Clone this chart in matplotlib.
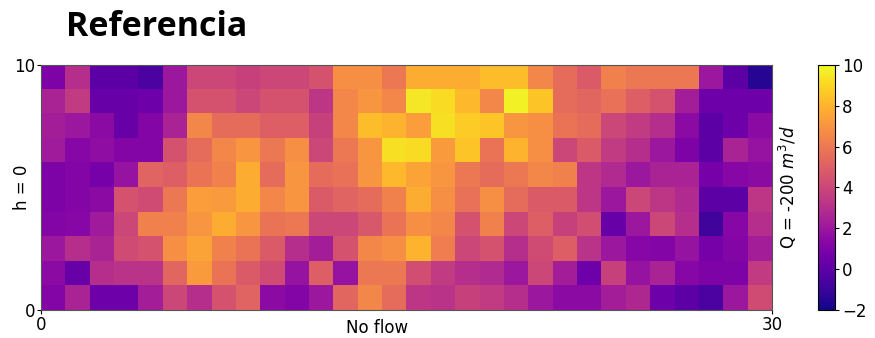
# Heatmap de referencia (campo 30 x 10) con barra de color

import matplotlib.pyplot as plt
import numpy as np


title = "Referencia"
xlabel = "No flow"
ylabel = "h = 0"
rlabel = "Q = -200 $m^3/d$"
cbar_ticks = [-2, 0, 2, 4, 6, 8, 10]

# filas de arriba (y=10) hacia abajo (y=0), 30 columnas cada una
row9 = [1.0, 3.0, 0.0, 0.0, -0.5, 2.0, 4.0, 4.0, 3.8, 4.0,
        4.0, 4.5, 6.8, 6.8, 6.0, 7.8, 7.8, 7.8, 8.3, 8.3,
        6.5, 5.5, 4.8, 6.3, 6.0, 6.0, 6.0, 2.0, 0.0, -1.5]
row8 = [2.5, 3.5, 0.3, 0.3, 0.5, 2.0, 4.5, 4.5, 4.0, 4.5,
        4.5, 3.3, 6.5, 7.0, 6.5, 9.5, 9.2, 8.2, 6.5, 9.8,
        8.5, 5.5, 5.3, 5.7, 5.0, 4.5, 2.3, 0.5, 0.5, 0.5]
row7 = [2.3, 2.0, 1.5, 0.3, 1.2, 2.5, 6.5, 5.5, 5.5, 5.0,
        5.0, 3.8, 6.5, 8.3, 8.0, 7.3, 9.3, 8.7, 8.5, 7.0,
        6.8, 5.8, 5.5, 4.0, 3.5, 3.0, 1.5, 0.0, 0.5, 1.5]
row6 = [2.2, 1.3, 1.6, 1.2, 1.2, 4.5, 5.5, 6.5, 7.0, 6.0,
        6.8, 4.0, 6.0, 7.0, 9.3, 9.2, 7.2, 8.5, 5.8, 8.0,
        6.8, 4.0, 4.8, 3.5, 3.0, 2.0, 1.0, 0.0, 2.5, 1.8]
row5 = [1.0, 1.2, 0.8, 1.8, 5.2, 5.0, 5.8, 6.3, 7.8, 5.5,
        7.0, 5.5, 5.7, 7.0, 8.2, 7.5, 7.0, 6.0, 5.5, 6.0,
        6.5, 6.3, 3.3, 2.8, 2.0, 2.5, 2.5, 0.8, 1.3, 1.5]
row4 = [1.0, 1.2, 1.5, 4.5, 4.2, 6.0, 7.3, 7.2, 7.8, 6.5,
        7.0, 4.8, 5.2, 5.5, 6.3, 7.8, 6.8, 5.7, 6.8, 5.5,
        4.8, 4.8, 3.3, 2.0, 4.0, 3.3, 2.8, 0.0, 0.0, 3.3]
row3 = [1.2, 1.3, 2.2, 4.0, 6.3, 6.3, 7.0, 7.8, 7.0, 5.8,
        6.0, 4.0, 4.0, 4.7, 5.8, 6.8, 6.5, 4.5, 6.3, 4.0,
        5.0, 3.8, 4.3, 0.3, 2.0, 4.0, 3.0, -0.8, 1.3, 3.0]
row2 = [2.0, 3.0, 2.5, 4.2, 4.5, 6.8, 7.5, 6.3, 5.8, 4.8,
        3.0, 2.3, 4.5, 6.5, 6.8, 8.0, 6.2, 4.0, 4.5, 3.0,
        4.2, 5.0, 3.2, 2.0, 1.3, 1.2, 1.8, 0.8, 1.2, 2.3]
row1 = [1.5, 0.3, 3.0, 3.2, 3.2, 5.3, 7.2, 5.8, 4.8, 4.2,
        1.8, 5.0, 1.8, 6.0, 6.0, 4.3, 3.5, 3.0, 2.8, 2.0,
        4.0, 2.3, 0.5, 3.8, 1.8, 2.5, 1.3, 1.0, 1.0, 3.5]
row0 = [1.2, 2.5, 0.5, 0.5, 2.3, 4.0, 3.0, 4.5, 5.2, 1.5,
        1.2, 2.0, 5.3, 6.5, 5.5, 3.3, 3.2, 3.8, 3.5, 3.0,
        2.0, 1.5, 1.5, 2.3, 2.7, 0.5, 0.0, -0.5, 2.0, 4.2]


def makeFig():
    plt.rcParams['font.family'] = 'DejaVu Sans'
    field = np.array([row9, row8, row7, row6, row5, row4, row3, row2, row1, row0])
    ny, nx = field.shape

    fig = plt.figure(figsize=(8.75, 3.38), dpi=100)
    fig.text(0.075, 0.92, title, fontsize=24.5, fontweight='bold',
             family=['Open Sans', 'DejaVu Sans'], va='center')

    ax = fig.add_axes([0.0469, 0.0828, 0.8354, 0.725])
    im = ax.imshow(field, cmap='plasma', vmin=-2, vmax=10, origin='upper',
                   extent=[0, nx, 0, ny], aspect='auto', interpolation='nearest')
    ax.set_xticks([0, nx])
    ax.set_yticks([0, ny])
    ax.tick_params(labelsize=12, length=3, pad=1)
    # etiquetas pegadas al eje (a la altura de los numeros)
    ax.text(13.8, -0.72, xlabel, fontsize=12, ha='center', va='center')
    ax.text(-0.78, 5, ylabel, fontsize=12, rotation=90, ha='center', va='center')
    ax.text(1.007, 0.5, rlabel, transform=ax.transAxes, rotation=90,
            fontsize=12, va='center', ha='left')
    for s in ax.spines.values():
        s.set_linewidth(0.8)
        s.set_color('#555555')

    cax = fig.add_axes([0.935, 0.0828, 0.0194, 0.725])
    cb = fig.colorbar(im, cax=cax, ticks=cbar_ticks)
    cb.ax.tick_params(labelsize=12, length=3, pad=2)
    cb.outline.set_linewidth(0.8)

    fig.savefig('out.png', dpi=100)


if __name__ == '__main__':
    makeFig()
